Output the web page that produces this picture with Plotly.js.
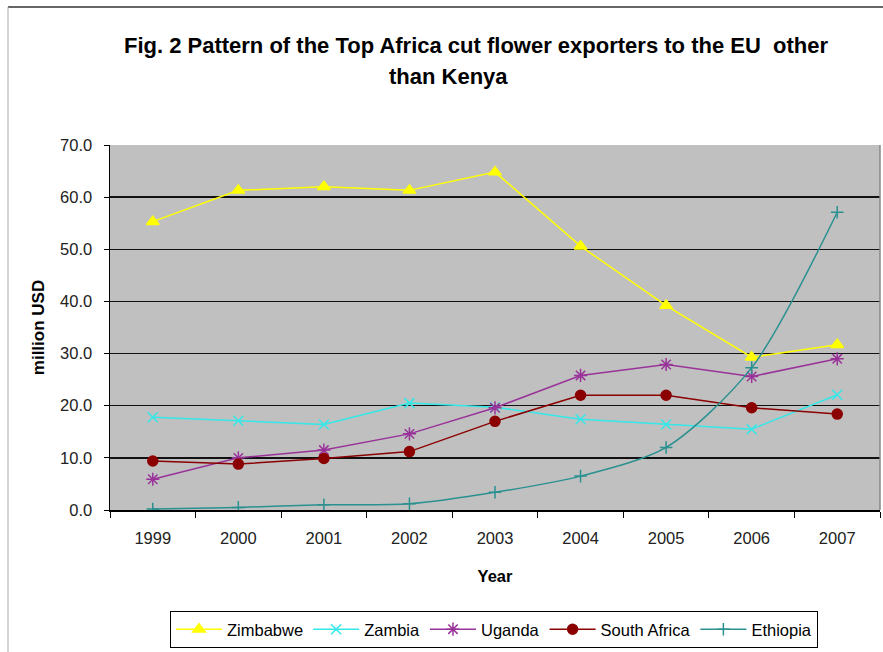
<!DOCTYPE html>
<html>
<head>
<meta charset="utf-8">
<script src="https://cdn.plot.ly/plotly-3.0.1.min.js"></script>
<style>
  html, body { margin: 0; padding: 0; background: #fff; }
  #chart { width: 883px; height: 652px; }
</style>
</head>
<body>
<div id="chart"></div>
<script>
const years = ["1999", "2000", "2001", "2002", "2003", "2004", "2005", "2006", "2007"];
const zimbabwe = [55.3, 61.3, 62.0, 61.3, 64.8, 50.6, 39.2, 29.3, 31.7];
const zambia = [17.8, 17.1, 16.4, 20.5, 19.7, 17.4, 16.4, 15.5, 22.1];
const uganda = [5.9, 10.0, 11.5, 14.6, 19.6, 25.8, 27.9, 25.6, 29.0];
const southAfrica = [9.4, 8.8, 9.9, 11.2, 17.0, 22.0, 22.0, 19.6, 18.4];
const ethiopia = [0.2, 0.5, 1.0, 1.2, 3.4, 6.5, 12.0, 27.3, 57.1];
const yTicks = [0, 10, 20, 30, 40, 50, 60, 70];
const titleLine1 = "Fig. 2 Pattern of the Top Africa cut flower exporters to the EU  other";
const titleLine2 = "than Kenya";

const FONT = "Liberation Sans, Arial, sans-serif";

const traces = [
  {name: "Zimbabwe", y: zimbabwe, color: "#FFFF00", symbol: "triangle-up", size: 11, shape: "linear"},
  {name: "Zambia", y: zambia, color: "#33E8E8", symbol: "x-thin-open", size: 10, shape: "linear"},
  {name: "Uganda", y: uganda, color: "#993399", symbol: "asterisk-open", size: 11, shape: "linear"},
  {name: "South Africa", y: southAfrica, color: "#8B0000", symbol: "circle", size: 10, shape: "linear"},
  {name: "Ethiopia", y: ethiopia, color: "#2A9090", symbol: "cross-thin-open", size: 9, shape: "spline"}
].map(t => ({
  type: "scatter",
  mode: "lines+markers",
  name: t.name,
  x: years,
  y: t.y,
  line: {color: t.color, width: 1.5, shape: t.shape, smoothing: 0.8},
  marker: {color: t.color, symbol: t.symbol, size: t.size, line: {color: t.color, width: 1.5}}
}));

// pixel helpers for paper coords (plot: x 110..880, y 145..510)
const L = 110, R = 880, T = 145, B = 510;
const px = x => (x - L) / (R - L);
const py = y => (B - y) / (B - T);

const layout = {
  width: 883,
  height: 652,
  margin: {l: L, r: 883 - R, t: T, b: 652 - B},
  paper_bgcolor: "#ffffff",
  plot_bgcolor: "#C0C0C0",
  font: {family: FONT, color: "#222", size: 16},
  showlegend: true,
  title: {
    text: titleLine1,
    font: {family: FONT, size: 22, color: "#000", weight: "bold"},
    xref: "paper", x: px(476), xanchor: "center",
    yref: "container", y: 1 - 45 / 652, yanchor: "middle"
  },
  annotations: [{
    text: titleLine2, showarrow: false,
    xref: "paper", yref: "paper",
    x: px(448), y: py(76), xanchor: "center", yanchor: "middle",
    font: {family: FONT, size: 22, color: "#000", weight: "bold"}
  }],
  xaxis: {
    type: "category",
    range: [-0.5, 8.5],
    tickson: "boundaries",
    ticks: "outside", ticklen: 6, tickcolor: "#000", tickwidth: 1,
    showline: true, linecolor: "#000", linewidth: 1.5,
    showgrid: false, zeroline: false,
    tickfont: {family: FONT, size: 16.5, color: "#222"},
    ticklabelstandoff: 13,
    title: {text: "Year", font: {family: FONT, size: 16.5, color: "#000", weight: "bold"}, standoff: 24},
    fixedrange: true
  },
  yaxis: {
    range: [0, 70],
    tickvals: yTicks,
    tickformat: ".1f",
    ticks: "outside", ticklen: 5, tickcolor: "#000", tickwidth: 1,
    showline: true, linecolor: "#000", linewidth: 1.5,
    showgrid: true, gridcolor: "#111", gridwidth: 1.3,
    zeroline: false,
    tickfont: {family: FONT, size: 16.5, color: "#222"},
    ticklabelstandoff: 8,
    title: {text: "million USD", font: {family: FONT, size: 17, color: "#000", weight: "bold"}, standoff: 11},
    fixedrange: true
  },
  legend: {
    orientation: "h",
    x: px(170), xanchor: "left",
    y: py(611), yanchor: "top",
    bgcolor: "#ffffff",
    bordercolor: "#000", borderwidth: 1,
    font: {family: FONT, size: 16.5, color: "#000"},
    itemwidth: 46,
    traceorder: "normal"
  },
  shapes: [
    // plot area right border
    {type: "line", xref: "paper", yref: "paper", x0: 1, x1: 1, y0: 0, y1: 1, line: {color: "#888", width: 1.5}},
    // outer chart frame: top and left
    {type: "line", xref: "paper", yref: "paper", x0: px(8), x1: px(883), y0: py(7), y1: py(7), line: {color: "#333", width: 1.5}},
    {type: "line", xref: "paper", yref: "paper", x0: px(8), x1: px(8), y0: py(7), y1: py(652), line: {color: "#aaa", width: 1}}
  ]
};

Plotly.newPlot("chart", traces, layout, {displayModeBar: false, staticPlot: true});
</script>
</body>
</html>
